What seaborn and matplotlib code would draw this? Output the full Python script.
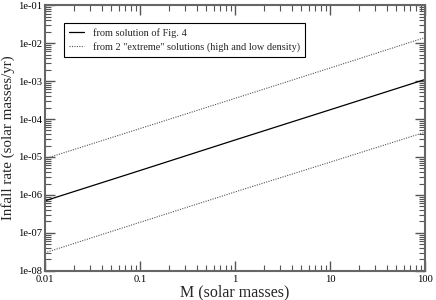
import matplotlib
matplotlib.use("Agg")
import matplotlib.pyplot as plt
import matplotlib.ticker as ticker
import seaborn as sns
import pandas as pd

# Datos
masa = [0.01, 0.1, 1, 10, 100]
tasa_fig4 = [7e-7, 4.4e-6, 2.8e-5, 1.75e-4, 1.1e-3]
tasa_alta = [9e-6, 5.6e-5, 3.5e-4, 2.2e-3, 1.4e-2]
tasa_baja = [3e-8, 1.9e-7, 1.2e-6, 7.3e-6, 4.5e-5]

sns.set_theme(style="ticks")
plt.rcParams["font.family"] = ["Liberation Serif", "DejaVu Serif"]

df = pd.DataFrame({"M": masa, "fig4": tasa_fig4, "alta": tasa_alta, "baja": tasa_baja})

fig = plt.figure(figsize=(4.36, 3.0), dpi=100)
ax = fig.add_axes([0.103, 0.097, 0.872, 0.886])

sns.lineplot(data=df, x="M", y="fig4", color="black", linewidth=0.9, ax=ax,
             label="from solution of Fig. 4")
sns.lineplot(data=df, x="M", y="alta", color="#555555", linewidth=0.8, linestyle=(0, (1, 1.2)),
             ax=ax, label='from 2 "extreme" solutions (high and low density)')
sns.lineplot(data=df, x="M", y="baja", color="#555555", linewidth=0.8, linestyle=(0, (1, 1.2)),
             ax=ax)

ax.set_xscale("log")
ax.set_yscale("log")
ax.set_xlim(0.01, 100)
ax.set_ylim(1e-8, 1e-1)

ax.xaxis.set_major_locator(ticker.LogLocator(base=10, numticks=10))
ax.xaxis.set_major_formatter(ticker.FuncFormatter(lambda v, p: "%g" % v))
ax.yaxis.set_major_locator(ticker.LogLocator(base=10, numticks=10))
ax.yaxis.set_major_formatter(ticker.FuncFormatter(lambda v, p: "%.0e" % v))
ax.xaxis.set_minor_locator(ticker.LogLocator(base=10, subs=range(2, 10), numticks=20))
ax.yaxis.set_minor_locator(ticker.LogLocator(base=10, subs=range(2, 10), numticks=20))
ax.xaxis.set_minor_formatter(ticker.NullFormatter())
ax.yaxis.set_minor_formatter(ticker.NullFormatter())

ax.tick_params(which="both", direction="in", top=True, right=True, colors="#555555",
               labelcolor="black", labelsize=7.6)
ax.tick_params(axis="y", pad=2)
ax.tick_params(axis="x", pad=3)
ax.tick_params(which="major", length=7, width=1)
ax.tick_params(which="minor", length=4, width=0.8)
for s in ax.spines.values():
    s.set_color("#666666")
    s.set_linewidth(1.5)

ax.set_xlabel("M (solar masses)", fontsize=11.5, labelpad=0)
ax.set_ylabel("Infall rate (solar masses/yr)", fontsize=10.8)
ax.yaxis.set_label_coords(-0.078, 0.5)

leg = ax.legend(loc="upper left", bbox_to_anchor=(0.05, 0.932), fontsize=7.4, fancybox=False,
                framealpha=1, edgecolor="black", handlelength=1.5, handletextpad=0.8,
                borderpad=0.5, labelspacing=0.35, borderaxespad=0)
leg.get_frame().set_linewidth(0.8)

fig.savefig("out.png", dpi=100)
